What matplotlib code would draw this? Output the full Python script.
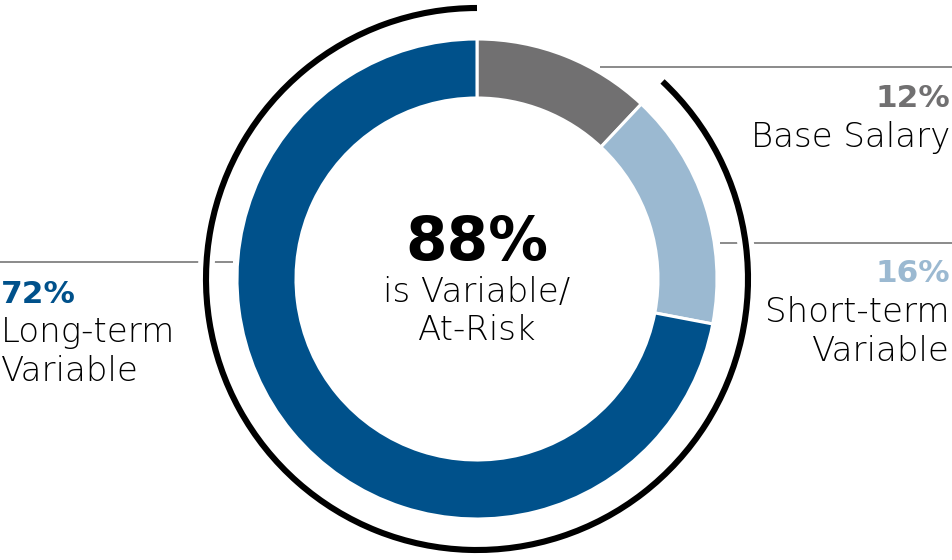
"""Pay mix donut: base salary vs. variable / at-risk pay."""

import matplotlib
matplotlib.use("Agg")
import matplotlib.pyplot as plt
from matplotlib.patches import Arc

# data
labels = ["Base Salary", "Short-term\nVariable", "Long-term\nVariable"]
shares = [12, 16, 72]
colors = ["#717071", "#9BB9D1", "#00518B"]
at_risk = 88

W, H = 953, 560
FONT = ["DejaVu Sans"]


def py(y):
    # pixel row (from top) -> data y
    return H - y


fig = plt.figure(figsize=(W / 100, H / 100), dpi=100)
ax = fig.add_axes([0, 0, 1, 1])

cx, cy = 477, py(279)
r_out, ring = 240, 59

ax.pie(shares, colors=colors, startangle=90, counterclock=False,
       radius=r_out, center=(cx, cy),
       wedgeprops=dict(width=ring, edgecolor="white", linewidth=2.2))

# black arc around the variable (at-risk) share
r_arc = 271
t1 = 90
t2 = 90 + 360 * at_risk / 100
ax.add_patch(Arc((cx, cy), 2 * r_arc, 2 * r_arc, theta1=t1, theta2=t2,
                 color="white", lw=12, zorder=3, capstyle="butt"))
ax.add_patch(Arc((cx, cy), 2 * r_arc, 2 * r_arc, theta1=t1, theta2=t2,
                 color="black", lw=4.4, zorder=4, capstyle="butt"))

# leader lines
line_kw = dict(color="#6b6b6b", lw=1.1, zorder=2, solid_capstyle="butt")
ax.plot([600, W], [py(67), py(67)], **line_kw)
ax.plot([720, W], [py(243), py(243)], **line_kw)
ax.plot([0, 233], [py(262), py(262)], **line_kw)

light = dict(family=FONT, fontsize=24.5, fontweight="light", color="black",
             va="baseline")
bold = dict(family=FONT, fontsize=22.5, fontweight="bold", va="baseline")

# base salary
ax.text(950, py(107), f"{shares[0]}%", ha="right", color=colors[0], **bold)
ax.text(950, py(147), labels[0], ha="right", **light)

# short-term
st = labels[1].split("\n")
ax.text(950, py(282), f"{shares[1]}%", ha="right", color=colors[1], **bold)
ax.text(950, py(322), st[0], ha="right", **light)
ax.text(950, py(361), st[1], ha="right", **light)

# long-term
lt = labels[2].split("\n")
ax.text(1, py(303), f"{shares[2]}%", ha="left", color=colors[2], **bold)
ax.text(1, py(342), lt[0], ha="left", **light)
ax.text(1, py(381), lt[1], ha="left", **light)

# centre
ax.text(cx, py(260), f"{at_risk}%", ha="center", va="baseline",
        family=FONT, fontsize=43, fontweight="bold", color="black")
ax.text(cx, py(302), "is Variable/", ha="center", **light)
ax.text(cx, py(340), "At-Risk", ha="center", **light)

ax.set_xlim(0, W)
ax.set_ylim(0, H)
ax.set_aspect("equal")
ax.axis("off")

fig.savefig("out.png", dpi=100)
